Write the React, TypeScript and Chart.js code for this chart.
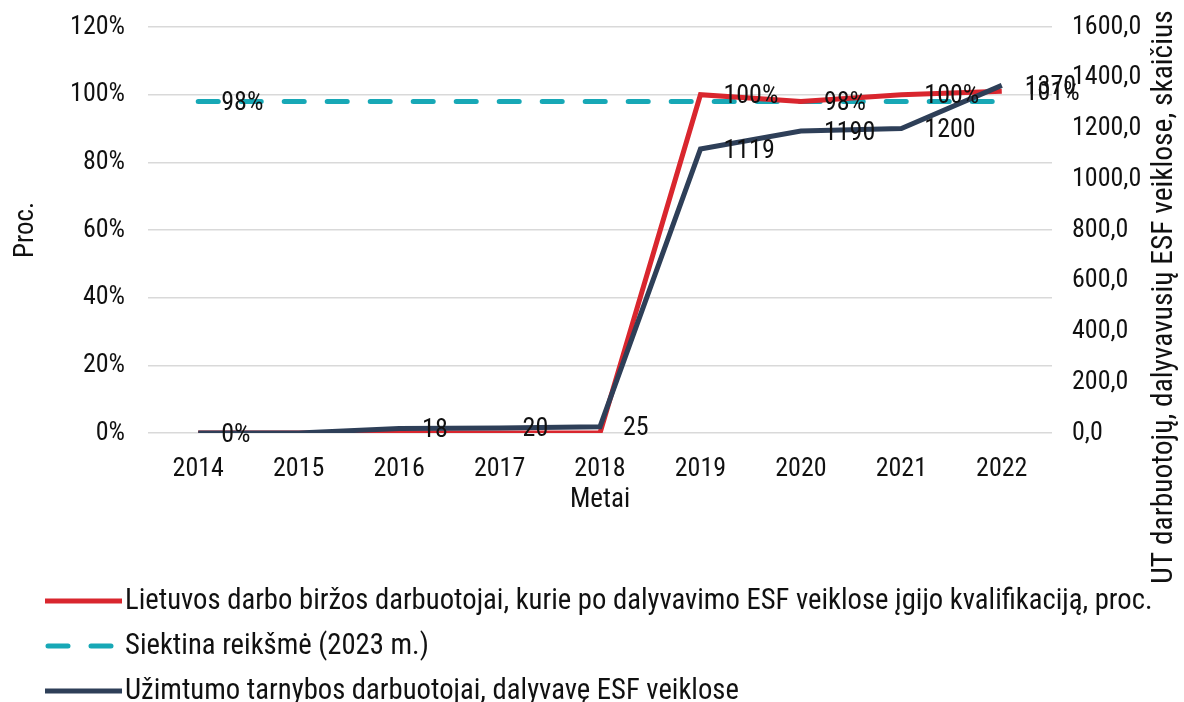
import React, { useEffect, useRef } from "react";
import { Chart, registerables } from "chart.js";

Chart.register(...registerables);

const years = ["2014", "2015", "2016", "2017", "2018", "2019", "2020", "2021", "2022"];
const skillsPct = [0, 0, 0, 0, 0, 100, 98, 100, 101];
const targetPct = [98, 98, 98, 98, 98, 98, 98, 98, 98];
const staffCount = [0, 0, 18, 20, 25, 1119, 1190, 1200, 1370];
const skillsLabelIdx = [0, 5, 6, 7, 8];
const targetLabelIdx = [0];
const staffLabelIdx = [2, 3, 4, 5, 6, 7, 8];

const leftTitle = "Proc.";
const rightTitle = "UT darbuotojų, dalyvavusių ESF veiklose, skaičius";
const xTitle = "Metai";
const skillsName = "Lietuvos darbo biržos darbuotojai, kurie po dalyvavimo ESF veiklose įgijo kvalifikaciją, proc.";
const targetName = "Siektina reikšmė (2023 m.)";
const staffName = "Užimtumo tarnybos darbuotojai, dalyvavę ESF veiklose";

const RED = "#D9262E";
const TEAL = "#17A8B6";
const NAVY = "#2E3F58";
const GRID = "#D9D9D9";
const TEXT = "#111111";
const FONT = "'Roboto Condensed', 'Noto Sans', sans-serif";
const FS_TICK = 26;
const FS_LABEL = 26;
const FS_LEGEND = 28.7;
const FS_TITLE = 27;
const FS_RTITLE = 29.5;

export default function App() {
  const ref = useRef<HTMLCanvasElement | null>(null);

  useEffect(() => {
    document.body.style.margin = "0";
    const canvas = ref.current;
    if (!canvas) return;

    const labelPlugin = {
      id: "pointLabels",
      afterDatasetsDraw(chart: any) {
        const ctx = chart.ctx;
        ctx.save();
        ctx.font = `${FS_LABEL}px ${FONT}`;
        ctx.fillStyle = TEXT;
        ctx.textAlign = "left";
        ctx.textBaseline = "middle";
        chart.data.datasets.forEach((ds: any, di: number) => {
          const meta = chart.getDatasetMeta(di);
          (ds.labelIdx as number[]).forEach((i) => {
            const el = meta.data[i];
            if (!el) return;
            ctx.fillText(ds.labelFmt(ds.data[i]), el.x + 23, el.y + 2);
          });
        });
        ctx.restore();
      },
    };

    const extrasPlugin = {
      id: "extras",
      afterDraw(chart: any) {
        const ctx = chart.ctx;
        ctx.save();
        ctx.fillStyle = TEXT;
        // right axis title
        ctx.save();
        ctx.font = `${FS_RTITLE}px ${FONT}`;
        ctx.translate(1165, 297);
        ctx.rotate(-Math.PI / 2);
        ctx.textAlign = "center";
        ctx.textBaseline = "middle";
        ctx.fillText(rightTitle, 0, 0);
        ctx.restore();
        // legend
        ctx.font = `${FS_LEGEND}px ${FONT}`;
        const items = [
          { name: skillsName, color: RED, dash: [] as number[], cap: "butt" },
          { name: targetName, color: TEAL, dash: [20, 23], cap: "round" },
          { name: staffName, color: NAVY, dash: [] as number[], cap: "butt" },
        ];
        const rows = [601, 646, 691];
        items.forEach((it, k) => {
          const y = rows[k];
          ctx.save();
          ctx.strokeStyle = it.color;
          ctx.lineWidth = 5;
          ctx.lineCap = it.cap as CanvasLineCap;
          ctx.setLineDash(it.dash);
          ctx.beginPath();
          if (it.dash.length) {
            ctx.moveTo(48, y);
            ctx.lineTo(120, y);
          } else {
            ctx.moveTo(45, y);
            ctx.lineTo(122, y);
          }
          ctx.stroke();
          ctx.restore();
          ctx.textAlign = "left";
          ctx.textBaseline = "middle";
          ctx.fillText(it.name, 125, y + 1);
        });
        ctx.restore();
      },
    };

    const chart = new Chart(canvas, {
      type: "line",
      data: {
        labels: years,
        datasets: [
          {
            label: staffName,
            data: staffCount,
            yAxisID: "yR",
            borderColor: NAVY,
            backgroundColor: NAVY,
            borderWidth: 5,
            pointRadius: 0,
            tension: 0,
            labelIdx: staffLabelIdx,
            labelFmt: (v: number) => `${v}`,
          } as any,
          {
            label: skillsName,
            data: skillsPct,
            yAxisID: "y",
            borderColor: RED,
            backgroundColor: RED,
            borderWidth: 5,
            pointRadius: 0,
            tension: 0,
            labelIdx: skillsLabelIdx,
            labelFmt: (v: number) => `${v}%`,
          } as any,
          {
            label: targetName,
            data: targetPct,
            yAxisID: "y",
            borderColor: TEAL,
            backgroundColor: TEAL,
            borderWidth: 5,
            borderDash: [20, 23],
            borderCapStyle: "round",
            pointRadius: 0,
            tension: 0,
            labelIdx: targetLabelIdx,
            labelFmt: (v: number) => `${v}%`,
          } as any,
        ],
      },
      options: {
        responsive: false,
        animation: false,
        devicePixelRatio: 1,
        layout: { padding: { top: 27, bottom: 184, left: 0, right: 0 } },
        plugins: {
          legend: { display: false },
          tooltip: { enabled: false },
        },
        scales: {
          x: {
            type: "category",
            offset: true,
            grid: { display: false },
            border: { display: false },
            ticks: { color: TEXT, font: { family: FONT, size: FS_TICK }, padding: 13, maxRotation: 0 },
            title: { display: true, text: xTitle, color: TEXT, font: { family: FONT, size: FS_TITLE }, padding: { top: 0, bottom: 2 } },
            afterFit: (s: any) => { s.height = 85; s.paddingLeft = 0; s.paddingRight = 0; },
          },
          y: {
            position: "left",
            min: 0,
            max: 120,
            ticks: { stepSize: 20, color: TEXT, font: { family: FONT, size: FS_TICK }, padding: 23, callback: (v: any) => `${v}%` },
            grid: { color: GRID, lineWidth: 1.5, drawTicks: false },
            border: { display: false },
            title: { display: true, text: leftTitle, color: TEXT, font: { family: FONT, size: FS_TITLE }, padding: { top: 10, bottom: 0 } },
            afterFit: (s: any) => { s.width = 148; s.paddingTop = 0; s.paddingBottom = 0; },
          },
          yR: {
            position: "right",
            min: 0,
            max: 1600,
            ticks: { stepSize: 200, color: TEXT, font: { family: FONT, size: FS_TICK }, padding: 20, callback: (v: any) => Number(v).toFixed(1).replace(".", ",") },
            grid: { display: false, drawTicks: false },
            border: { display: false },
            afterFit: (s: any) => { s.width = 132; s.paddingTop = 0; s.paddingBottom = 0; },
          },
        },
      } as any,
      plugins: [labelPlugin, extrasPlugin],
    });

    return () => chart.destroy();
  }, []);

  return (
    <div style={{ position: "fixed", left: 0, top: 0, width: 1184, height: 702, background: "#fff" }}>
      <canvas ref={ref} width={1184} height={702} style={{ width: 1184, height: 702, display: "block" }} />
    </div>
  );
}
